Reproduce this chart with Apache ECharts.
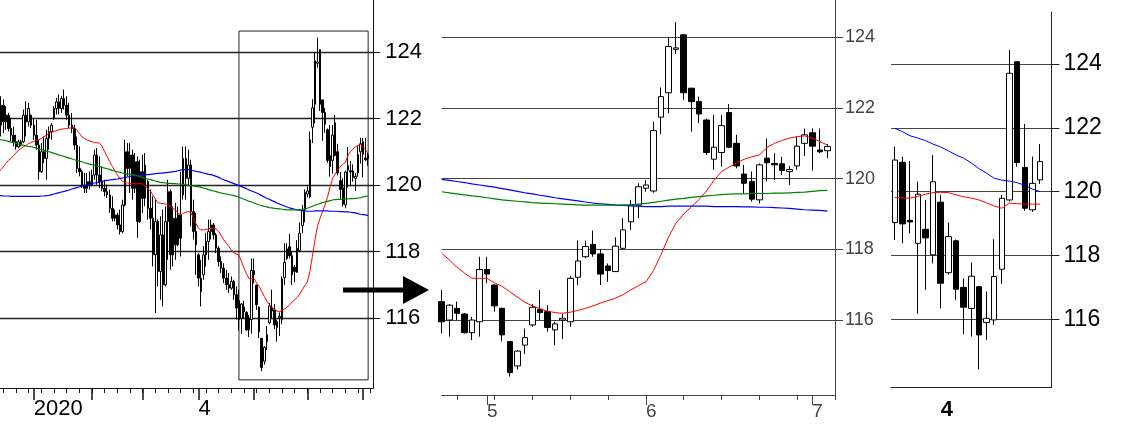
<!DOCTYPE html>
<html><head><meta charset="utf-8">
<script src="https://cdn.jsdelivr.net/npm/echarts@6/dist/echarts.min.js"></script>
<style>html,body{margin:0;padding:0;background:#fff}#c{width:1123px;height:425px}</style>
</head><body><div id="c"></div>
<script>
// ---------- DATA ----------
// daily EUR/JPY candles [open, close, low, high], 2019-12-12 .. 2020-07-03 (weekdays)
const dailyOCLH = [
[122.3,121.8,121.46,122.67],[121.8,122.4,121.46,122.67],[122.4,121.9,121.56,122.57],[121.9,122.1,121.66,122.37],[122.1,121.7,121.61,122.17],
[121.7,121.5,121.31,122.02],[121.5,121.3,121.16,121.76],[121.3,121.15,121.06,121.51],[121.15,121.3,121.11,121.36],[121.3,121.2,121.16,121.36],
[121.3,122.1,121.26,122.27],[122.1,121.9,121.46,122.52],[121.9,122.3,121.76,122.47],[122.1,121.8,121.71,122.12],[121.8,121.5,121.36,122.02],
[121.5,121.2,121.06,121.96],[121.2,120.4,120.16,121.36],[120.4,121.0,120.36,121.26],[121.0,120.8,120.66,121.46],[120.8,121.4,120.16,121.66],
[121.4,121.6,121.06,121.76],[121.6,121.8,121.36,121.86],[122.0,122.3,121.96,122.37],[122.3,122.5,122.12,122.62],[122.5,122.3,122.12,122.72],
[122.3,122.6,122.17,122.67],[122.6,122.4,122.27,122.87],[122.4,122.1,121.96,122.67],[122.1,121.8,121.71,122.47],[121.8,121.7,121.56,122.17],
[121.7,121.2,121.06,121.81],[121.2,120.5,120.36,121.46],[120.5,120.4,120.26,121.16],[120.4,120.0,119.91,120.46],[120.0,119.9,119.76,120.36],
[119.9,120.1,119.76,120.36],[120.1,120.0,119.86,120.41],[120.0,120.3,119.96,120.46],[120.3,120.9,120.16,121.06],[120.9,120.3,120.01,121.11],
[120.3,120.1,119.91,120.86],[120.1,119.9,119.81,120.56],[119.9,119.8,119.66,120.16],[119.8,119.7,119.61,120.01],[119.7,119.3,119.16,119.86],
[119.3,119.0,118.91,119.66],[119.0,119.1,118.91,119.26],[119.1,118.8,118.66,119.16],[118.8,118.6,118.51,119.26],[118.6,119.4,118.55,119.56],
[119.4,121.0,119.36,121.36],[121.0,120.5,120.26,121.26],[120.5,120.9,119.76,121.26],[120.9,119.9,119.56,121.06],[119.9,120.7,119.76,120.96],
[120.7,118.9,118.41,120.86],[118.9,120.4,118.86,120.76],[120.4,119.6,119.16,120.91],[119.6,120.6,119.36,120.96],[120.1,119.3,118.96,120.16],
[119.3,119.0,118.66,119.86],[119.0,117.9,117.55,119.66],[117.9,118.9,116.15,119.56],[118.9,117.4,116.95,118.96],[117.4,118.5,116.55,119.06],
[118.5,117.0,116.35,119.26],[117.0,118.9,116.95,119.36],[118.9,119.8,117.75,120.16],[119.8,117.9,117.45,119.86],[117.9,119.0,117.55,119.36],
[119.0,118.2,117.75,119.46],[118.2,119.1,118.16,119.36],[119.1,118.4,117.85,120.4],[119.7,120.8,119.56,121.16],[120.8,120.2,119.56,121.16],
[120.2,120.6,119.96,121.06],[120.6,119.2,118.76,120.76],[119.2,118.6,118.36,119.56],[118.6,118.2,117.3,119.16],[117.9,117.2,116.95,117.95],
[117.2,116.8,116.35,117.75],[117.3,117.9,117.15,118.16],[117.9,118.3,117.55,118.56],[118.3,118.6,117.75,118.96],[118.6,118.8,118.36,118.96],
[118.8,118.5,118.36,118.86],[118.5,118.1,117.95,118.56],[118.1,117.7,117.55,118.16],[117.7,117.5,117.35,117.85],[117.5,117.2,117.05,117.65],
[117.2,117.0,116.85,117.45],[117.0,116.9,116.75,117.35],[116.9,117.1,116.85,117.25],[117.1,116.7,116.55,117.15],[116.7,116.3,115.95,116.95],
// 2020-04-23 ..
[116.52,115.95,115.62,116.85],[116.00,116.42,115.53,116.45],[116.33,116.19,116.00,116.52],[116.17,115.64,115.62,116.20],[115.64,116.00,115.43,116.09],
[115.95,117.43,115.53,117.79],[117.43,117.30,117.04,117.79],[116.99,116.40,116.24,117.00],[116.33,115.58,115.39,116.35],[115.39,114.51,114.40,115.40],
[114.70,115.12,114.60,115.15],[115.29,115.50,115.04,115.76],[115.86,116.36,115.81,116.45],[116.30,116.21,116.00,116.85],[116.24,115.79,115.67,116.42],
[115.72,115.89,115.29,115.95],[116.00,116.05,115.46,116.17],[115.95,117.18,115.81,117.25],[117.21,117.67,116.99,118.25],[117.79,118.08,117.75,118.25],
[118.14,117.87,117.79,118.53],[117.87,117.30,116.99,118.00],[117.53,117.40,117.08,117.60],[117.37,118.09,117.37,118.34],[118.03,118.55,117.98,118.88],
[118.78,119.25,118.55,119.40],[119.25,119.77,118.88,119.87],[119.73,119.82,119.63,119.96],[119.65,121.36,119.60,121.61],[121.74,122.32,121.26,122.58],
[122.43,123.74,121.85,124.00],[123.66,123.70,123.53,124.43],[124.07,122.43,122.23,124.07],[122.56,122.18,121.33,122.56],[122.18,121.83,121.57,122.32],
[121.66,120.74,120.67,121.70],[120.55,120.89,120.25,121.80],[120.74,121.50,120.34,121.80],[121.87,120.89,120.86,122.11],[121.00,120.36,120.29,121.24],
[120.13,119.87,119.58,120.39],[119.92,119.42,119.35,120.20],[119.40,120.39,119.30,120.43],[120.58,120.45,119.92,121.14],[120.43,120.39,119.96,120.72],
[120.42,120.23,120.10,120.62],[120.20,120.26,119.82,120.36],[120.36,120.92,120.25,121.19],[121.00,121.24,120.64,121.42],[121.30,120.92,120.23,121.42],
[120.81,120.76,120.72,121.42],[120.79,120.91,120.58,120.98]
];
// moving averages (red / blue / green)
const ma25 = [120.40,120.46,120.55,120.65,120.74,120.80,120.88,120.97,121.04,121.10,
121.15,121.20,121.25,121.28,121.31,121.34,121.36,121.40,121.45,121.50,
121.55,121.58,121.61,121.64,121.66,121.68,121.69,121.70,121.71,121.72,
121.73,121.65,121.56,121.45,121.40,121.36,121.33,121.30,121.28,121.27,
121.26,121.15,121.00,120.85,120.70,120.56,120.43,120.31,120.20,120.11,
120.08,120.06,120.05,120.04,120.04,120.04,120.04,120.03,119.97,119.90,
119.82,119.70,119.58,119.47,119.45,119.44,119.43,119.41,119.35,119.29,
119.25,119.15,119.10,119.15,119.18,119.20,119.18,119.00,118.85,118.70,
118.65,118.65,118.66,118.68,118.70,118.70,118.68,118.60,118.48,118.35,
118.25,118.15,118.05,117.96,117.92,
117.89,117.70,117.50,117.33,117.18,117.18,117.18,117.05,116.95,116.80,
116.65,116.50,116.40,116.32,116.25,116.21,116.19,116.22,116.27,116.33,
116.40,116.48,116.55,116.62,116.72,116.85,116.97,117.08,117.40,117.85,
118.35,118.75,119.00,119.20,119.40,119.65,119.95,120.20,120.33,120.45,
120.55,120.62,120.67,120.88,121.00,121.08,121.15,121.19,121.21,121.15,
121.05,120.95];
const ma75 = [119.68,119.68,119.67,119.67,119.67,119.66,119.66,119.66,119.66,119.66,
119.66,119.66,119.66,119.66,119.66,119.66,119.66,119.67,119.67,119.68,
119.69,119.71,119.73,119.75,119.77,119.79,119.81,119.83,119.85,119.88,
119.90,119.92,119.94,119.96,119.98,120.00,120.02,120.04,120.06,120.07,
120.09,120.11,120.13,120.14,120.15,120.16,120.17,120.18,120.20,120.21,
120.22,120.24,120.26,120.28,120.29,120.29,120.30,120.30,120.31,120.31,
120.32,120.33,120.34,120.35,120.36,120.36,120.37,120.38,120.39,120.40,
120.41,120.43,120.45,120.46,120.46,120.46,120.45,120.43,120.41,120.40,
120.38,120.36,120.34,120.32,120.31,120.29,120.26,120.23,120.19,120.16,
120.13,120.10,120.07,120.04,120.01,
119.98,119.95,119.92,119.89,119.85,119.82,119.79,119.76,119.72,119.68,
119.64,119.60,119.57,119.53,119.50,119.46,119.43,119.40,119.37,119.34,
119.31,119.29,119.27,119.25,119.24,119.23,119.22,119.21,119.21,119.21,
119.22,119.22,119.22,119.22,119.22,119.22,119.21,119.21,119.21,119.21,
119.20,119.20,119.19,119.19,119.18,119.17,119.16,119.14,119.12,119.11,
119.10,119.08];
const ma200 = [121.38,121.36,121.35,121.33,121.31,121.29,121.27,121.25,121.23,121.21,
121.19,121.17,121.16,121.15,121.13,121.11,121.09,121.06,121.04,121.02,
121.00,120.98,120.95,120.93,120.90,120.88,120.86,120.83,120.81,120.79,
120.76,120.74,120.72,120.70,120.67,120.65,120.63,120.61,120.59,120.57,
120.55,120.53,120.51,120.49,120.47,120.44,120.42,120.40,120.38,120.36,
120.34,120.33,120.32,120.31,120.29,120.27,120.25,120.23,120.20,120.18,
120.16,120.14,120.12,120.10,120.08,120.07,120.06,120.05,120.05,120.04,
120.04,120.03,120.03,120.02,120.01,119.99,119.98,119.97,119.96,119.95,
119.93,119.91,119.89,119.86,119.84,119.82,119.80,119.78,119.76,119.74,
119.73,119.71,119.70,119.68,119.66,
119.63,119.60,119.57,119.54,119.51,119.49,119.46,119.43,119.40,119.38,
119.36,119.34,119.32,119.31,119.30,119.29,119.28,119.27,119.26,119.25,
119.25,119.25,119.25,119.25,119.26,119.26,119.28,119.30,119.33,119.36,
119.39,119.42,119.44,119.47,119.49,119.51,119.53,119.55,119.56,119.57,
119.57,119.58,119.58,119.58,119.59,119.59,119.60,119.61,119.62,119.64,
119.66,119.67];

// weekly candles [open, close, low, high]
const weeklyDates = ['2020-02-17','2020-02-24','2020-03-02','2020-03-09','2020-03-16','2020-03-23','2020-03-30',
  '2020-04-06','2020-04-13','2020-04-20','2020-04-27','2020-05-04','2020-05-11','2020-05-18','2020-05-25',
  '2020-06-01','2020-06-08','2020-06-15','2020-06-22','2020-06-29','2020-07-06'];
const weeklyOCLH = [
[119.03,120.99,118.49,121.41],[120.92,118.99,118.38,121.10],[119.10,119.05,118.69,120.96],[118.38,119.92,116.17,120.31],
[118.82,118.55,116.92,119.74],[118.02,120.31,117.75,121.15],[119.67,117.13,116.34,119.90],[117.46,118.59,117.40,119.03],
[118.46,116.94,116.61,118.50],[117.00,116.38,115.53,117.28],[116.34,117.35,115.46,117.78],[117.02,115.51,114.43,117.04],
[115.90,116.03,115.35,116.87],[115.98,117.34,115.82,118.51],[117.57,119.79,117.11,119.90],[119.74,123.71,119.69,124.44],
[124.07,120.91,120.78,124.07],[120.76,119.48,119.40,122.12],[119.43,120.26,119.37,121.10],[120.37,120.94,120.24,121.49]];
const weeklyMaRed  = [119.82,119.80,119.80,119.85,119.92,119.97,119.98,119.97,119.90,119.84,119.80,119.74,119.65,119.55,119.48,119.64,119.62,119.61,119.61,119.61];
const weeklyMaBlue = [121.98,121.88,121.75,121.68,121.60,121.49,121.40,121.28,121.15,121.05,120.90,120.72,120.58,120.42,120.36,120.33,120.28,120.20,120.08,120.00];

// ticks / labels
const priceTicks = [116,118,120,122,124];
const p1Labels = {'2020-01-01':'2020','2020-04-01':'4'};
const p2Labels = {'2020-05-01':'5','2020-06-01':'6','2020-07-01':'7'};
const p3Ticks = ['2020-03-30','2020-06-29'];
const p3Labels = {'2020-03-30':'4'};
const zoomStart = '2020-04-23', zoomEnd = '2020-07-03';
const zoomBoxTop = 124.63, zoomBoxBottom = 114.14;

// ---------- helpers ----------
function weekdays(start, end){
  const out=[]; let d=new Date(start+'T00:00:00Z'); const e=new Date(end+'T00:00:00Z');
  while(d<=e){ const w=d.getUTCDay(); if(w!==0&&w!==6) out.push(d.toISOString().slice(0,10)); d=new Date(d.getTime()+86400000); }
  return out;
}
const dailyDates = weekdays('2019-12-12','2020-07-07');
const monthFirst = new Set(dailyDates.filter((v,i)=> i>0 && v.slice(5,7)!==dailyDates[i-1].slice(5,7)));
const isMonday = v => new Date(v+'T00:00:00Z').getUTCDay()===1;
const zi = dailyDates.indexOf(zoomStart);
const zDates = dailyDates.slice(zi, zi+53);
const FONT = 'Liberation Sans, Arial, sans-serif';

const candleStyle = {color:'#fff', color0:'#000', borderColor:'#000', borderColor0:'#000', borderWidth:1};
function yAx(grid, min, max, o){
  return {type:'value', gridIndex:grid, position:'right', min:min, max:max,
    axisLine:{show:true, lineStyle:{color:o.axis, width:1}},
    axisTick:{show:true, customValues:priceTicks, length:o.tick, inside:false, lineStyle:{color:o.axis, width:1}},
    axisLabel:{customValues:priceTicks, margin:o.margin, fontSize:o.fs, color:o.color, fontFamily:FONT},
    splitLine:{show:true, lineStyle:{color:o.split, width:o.sw}}};
}
function line(data, color, xi, yi, w){
  return {type:'line', data:data, xAxisIndex:xi, yAxisIndex:yi, symbol:'none', showSymbol:false,
    lineStyle:{color:color, width:w||1}, z:5, silent:true, animation:false};
}

const chart = echarts.init(document.getElementById('c'), null, {renderer:'canvas'});
chart.setOption({
  animation:false,
  backgroundColor:'#fff',
  grid:[
    {left:-1.7, top:0, width:374.9, height:388, containLabel:false, outerBoundsMode:'none'},
    {left:441.7, top:0, width:393.3, height:395, containLabel:false, outerBoundsMode:'none'},
    {left:891, top:12, width:160.5, height:375, containLabel:false, outerBoundsMode:'none'}
  ],
  xAxis:[
    {type:'category', gridIndex:0, position:'bottom', data:dailyDates, boundaryGap:false,
      axisLine:{lineStyle:{color:'#111'}}, axisTick:{interval:(i,v)=>isMonday(v), length:5, lineStyle:{color:'#111'}},
      axisLabel:{show:false}, splitLine:{show:false}},
    {type:'category', gridIndex:0, position:'bottom', data:dailyDates, boundaryGap:false,
      axisLine:{show:false}, axisTick:{interval:(i,v)=>monthFirst.has(v), length:12, lineStyle:{color:'#111', width:1.5}},
      axisLabel:{interval:(i,v)=>(v in p1Labels), formatter:v=>p1Labels[v]||'', align:'left', margin:10, fontSize:22, color:'#000', fontFamily:FONT},
      splitLine:{show:false}},
    {type:'category', gridIndex:1, position:'bottom', data:zDates, boundaryGap:false,
      axisLine:{lineStyle:{color:'#444'}}, axisTick:{interval:(i,v)=>isMonday(v), length:5, lineStyle:{color:'#444'}},
      axisLabel:{show:false}, splitLine:{show:false}},
    {type:'category', gridIndex:1, position:'bottom', data:zDates, boundaryGap:false,
      axisLine:{show:false}, axisTick:{interval:(i,v)=>monthFirst.has(v), length:10, lineStyle:{color:'#444'}},
      axisLabel:{interval:(i,v)=>(v in p2Labels), formatter:v=>p2Labels[v]||'', align:'left', margin:7, fontSize:19, color:'#444', fontFamily:FONT},
      splitLine:{show:false}},
    {type:'category', gridIndex:2, position:'bottom', data:weeklyDates, boundaryGap:true,
      axisLine:{lineStyle:{color:'#222'}}, axisTick:{alignWithLabel:true, interval:(i,v)=>p3Ticks.includes(v), length:13, lineStyle:{color:'#222'}},
      axisLabel:{interval:(i,v)=>(v in p3Labels), formatter:v=>p3Labels[v]||'', align:'left', margin:12, fontSize:22, fontWeight:'bold', color:'#000', fontFamily:FONT},
      splitLine:{show:false}}
  ],
  yAxis:[
    yAx(0, 113.895, 125.564, {axis:'#111', tick:7, margin:12, fs:22, color:'#000', split:'#222', sw:1.4}),
    yAx(1, 113.878, 125.055, {axis:'#444', tick:8, margin:10, fs:18, color:'#444', split:'#444', sw:1}),
    yAx(2, 113.878, 125.63,  {axis:'#222', tick:8, margin:12, fs:23, color:'#000', split:'#444', sw:1})
  ],
  series:[
    {type:'candlestick', xAxisIndex:0, yAxisIndex:0, data:dailyOCLH, barWidth:2, itemStyle:candleStyle, z:2, silent:true,
      markArea:{silent:true, itemStyle:{color:'rgba(0,0,0,0)', borderColor:'#222', borderWidth:1},
        data:[[{xAxis:zoomStart, yAxis:zoomBoxTop},{xAxis:zoomEnd, yAxis:zoomBoxBottom}]]}},
    line(ma25, '#ff0000', 0, 0, 1),
    line(ma75, '#0000ff', 0, 0, 1.2),
    line(ma200, '#008000', 0, 0, 1.2),
    {type:'candlestick', xAxisIndex:2, yAxisIndex:1, data:dailyOCLH.slice(zi), barWidth:6, clip:false, itemStyle:candleStyle, z:2, silent:true},
    line(ma25.slice(zi), '#ff0000', 2, 1, 1),
    line(ma75.slice(zi), '#0000ff', 2, 1, 1.2),
    line(ma200.slice(zi), '#008000', 2, 1, 1.2),
    {type:'candlestick', xAxisIndex:4, yAxisIndex:2, data:weeklyOCLH, barWidth:6, itemStyle:candleStyle, z:2, silent:true},
    line(weeklyMaRed, '#ff0000', 4, 2, 1),
    line(weeklyMaBlue, '#0000ff', 4, 2, 1)
  ],
  graphic:[
    {type:'rect', shape:{x:343, y:287.5, width:63, height:5}, style:{fill:'#000'}, z:100},
    {type:'polygon', shape:{points:[[403,276],[429,290],[403,304]]}, style:{fill:'#000'}, z:100}
  ]
});
</script></body></html>
